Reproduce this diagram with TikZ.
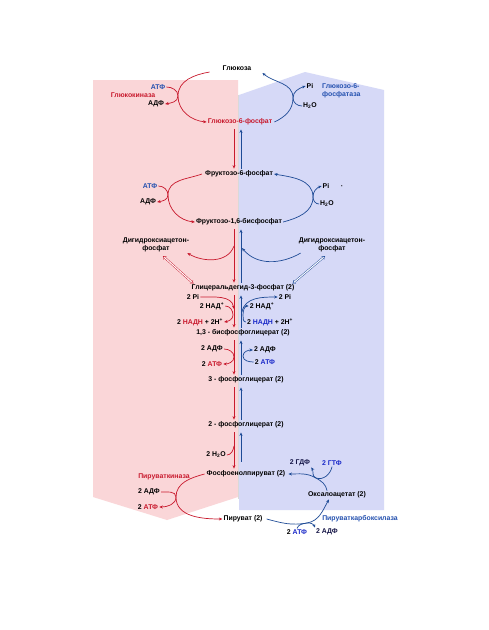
\documentclass[tikz,border=0pt]{standalone}
\usepackage{fontspec}
\setmainfont{Liberation Sans}
\usetikzlibrary{arrows.meta}
\definecolor{pinkbg}{RGB}{250,214,216}
\definecolor{bluebg}{RGB}{214,217,247}
\definecolor{rd}{RGB}{200,25,45}
\definecolor{bl}{RGB}{30,75,150}
\definecolor{bltx}{RGB}{35,80,175}
\definecolor{atfblue}{RGB}{25,40,200}
\definecolor{navy}{RGB}{20,20,70}
\begin{document}
\begin{tikzpicture}[x=1pt,y=1pt,
 lbl/.style={font=\bfseries\fontsize{6.9}{7.6}\selectfont, inner sep=1pt, text=black},
 rarr/.style={draw=rd, line width=0.7pt, -{Stealth[length=3.5pt,width=3pt]}},
 barr/.style={draw=bl, line width=0.7pt, -{Stealth[length=3.5pt,width=3pt]}},
 rvert/.style={rarr, shorten <=3pt, shorten >=1pt},
 bvert/.style={barr, shorten <=1pt, shorten >=3pt},
 rline/.style={draw=rd, line width=0.7pt},
 rdbl/.style={draw=rd, line width=0.45pt, double=white, double distance=1pt, {Implies}-{Implies}},
 bdbl/.style={draw=bl, line width=0.45pt, double=white, double distance=1pt, {Implies}-{Implies}}]
\useasboundingbox (0,0) rectangle (488,-630);
\fill[white] (0,0) rectangle (488,-630);
% backgrounds
\fill[pinkbg] (93,-80) -- (238,-80) -- (238,-497) -- (167,-520) -- (93,-497) -- cycle;
\fill[bluebg] (239,-95) -- (305,-72) -- (384,-90) -- (384,-510) -- (239,-510) -- cycle;
\draw[gray!30, line width=0.5pt] (238.5,-95) -- (238.5,-499);
% column x positions
\coordinate (rx) at (234,0);
\coordinate (bx) at (241,0);
% nodes
\node[lbl] (glc) at (237,-68) {Глюкоза};
\node[lbl, text=bltx] (atf1) at (158,-87) {АТФ};
\node[lbl, text=rd] (gk) at (133,-95) {Глюкокиназа};
\node[lbl] (adf1) at (156,-104) {АДФ};
\node[lbl, text=rd] (g6p) at (240,-122) {Глюкозо-6-фосфат};
\node[lbl] (pi1) at (310,-86) {Pi};
\node[lbl] (h2o1) at (310,-106) {H\textsubscript{2}O};
\node[lbl, text=bltx, anchor=west, align=left] (g6pase) at (321,-91) {Глюкозо-6-\\фосфатаза};
\node[lbl] (f6p) at (239,-174) {Фруктозо-6-фосфат};
\node[lbl, text=bltx] (atf2) at (150,-186) {АТФ};
\node[lbl] (adf2) at (148,-202) {АДФ};
\node[lbl] (pi2) at (326,-186) {Pi};
\node[lbl] (dot) at (342,-187) {·};
\node[lbl] (h2o2) at (327,-204) {H\textsubscript{2}O};
\node[lbl] (f16) at (239,-222) {Фруктозо-1,6-бисфосфат};
\node[lbl, align=center] (dhapL) at (156,-245) {Дигидроксиацетон-\\фосфат};
\node[lbl, align=center] (dhapR) at (332,-245) {Дигидроксиацетон-\\фосфат};
\node[lbl] (gap) at (243,-288) {Глицеральдегид-3-фосфат (2)};
\node[lbl] (p2L) at (193,-297) {2 Pi};
\node[lbl] (nadL) at (212,-306) {2 НАД\textsuperscript{+}};
\node[lbl] (nadhL) at (200,-322) {2 {\color{rd}НАДН} + 2H\textsuperscript{+}};
\node[lbl] (p2R) at (285,-297) {2 Pi};
\node[lbl] (nadR) at (262,-306) {2 НАД\textsuperscript{+}};
\node[lbl] (nadhR) at (270,-322) {2 {\color{atfblue}НАДН} + 2H\textsuperscript{+}};
\node[lbl] (bpg) at (243,-333) {1,3 - бисфосфоглицерат (2)};
\node[lbl] (adf3L) at (212,-349) {2 АДФ};
\node[lbl] (atf3L) at (212,-364) {2 {\color{rd}АТФ}};
\node[lbl] (adf3R) at (265,-350) {2 АДФ};
\node[lbl] (atf3R) at (265,-362) {2 {\color{atfblue}АТФ}};
\node[lbl] (pg3) at (246,-380) {3 - фосфоглицерат (2)};
\node[lbl] (pg2) at (246,-425) {2 - фосфоглицерат (2)};
\node[lbl] (h2o3) at (216,-455) {2 H\textsubscript{2}O};
\node[lbl] (pep) at (246,-474) {Фосфоенолпируват (2)};
\node[lbl, text=rd] (pk) at (164,-477) {Пируваткиназа};
\node[lbl] (adf5) at (149,-492) {2 АДФ};
\node[lbl] (atf5) at (148,-507) {2 {\color{rd}АТФ}};
\node[lbl] (pyr) at (243,-519) {Пируват (2)};
\node[lbl, text=navy] (gdf) at (300,-463) {2 ГДФ};
\node[lbl, text=atfblue] (gtf) at (332,-463) {2 ГТФ};
\node[lbl] (oxa) at (337,-495) {Оксалоацетат (2)};
\node[lbl, text=bltx] (pc) at (360,-519) {Пируваткарбоксилаза};
\node[lbl] (atf6) at (297,-532) {2 {\color{atfblue}АТФ}};
\node[lbl, text=navy] (adf6) at (327,-532) {2 АДФ};
% vertical arrows
\draw[rvert] (g6p.south -| rx) -- (f6p.north -| rx);
\draw[bvert] (f6p.north -| bx) -- (g6p.south -| bx);
\draw[rvert] (f16.south -| rx) -- (gap.north -| rx);
\draw[bvert] (gap.north -| bx) -- (f16.south -| bx);
\draw[rvert] (gap.south -| rx) -- (bpg.north -| rx);
\draw[bvert] (bpg.north -| bx) -- (gap.south -| bx);
\draw[rvert] (bpg.south -| rx) -- (pg3.north -| rx);
\draw[bvert] (pg3.north -| bx) -- (bpg.south -| bx);
\draw[rvert] (pg3.south -| rx) -- (pg2.north -| rx);
\draw[bvert] (pg2.north -| bx) -- (pg3.south -| bx);
\draw[rvert] (pg2.south -| rx) -- (pep.north -| rx);
\draw[bvert, shorten <=8pt] (pep.north -| bx) -- (pg2.south -| bx);
% glucose <-> G6P
\coordinate (j1) at (178,-96);
\draw[rarr] ([shift={(-12pt,-4pt)}]glc.west) to[out=190,in=90] (j1) to[out=-90,in=175] (g6p.west);
\draw[rarr] (atf1.east) to[out=0,in=90] (j1) to[out=-90,in=10] (adf1.east);
\coordinate (j2) at (293,-98);
\draw[barr] ([xshift=1pt]g6p.east) to[out=25,in=-90] (j2) to[out=90,in=-40] ([shift={(10pt,-5pt)}]glc.east);
\draw[barr] (h2o1.west) to[out=180,in=-90] (j2) to[out=90,in=200] (pi1.west);
% F6P <-> F16BP
\coordinate (j3) at (168,-195);
\draw[rarr] ([xshift=-2pt]f6p.west) to[out=200,in=90] (j3) to[out=-90,in=175] (f16.west);
\draw[rarr] (atf2.east) to[out=0,in=90] (j3) to[out=-90,in=10] (adf2.east);
\coordinate (j4) at (313,-197);
\draw[barr] (f16.east) to[out=15,in=-90] (j4) to[out=90,in=-10] (f6p.east);
\draw[barr] (h2o2.west) to[out=180,in=-90] (j4) to[out=90,in=200] (pi2.west);
% DHAP
\coordinate (j5) at (234,-246);
\draw[rarr] (j5) to[out=-110,in=-30] ([xshift=-3pt]dhapL.south east);
\coordinate (j6) at (242,-248);
\draw[barr] ([xshift=3pt]dhapR.south west) to[out=-150,in=-50] (j6);
\draw[rdbl] ([shift={(7pt,-3pt)}]dhapL.south) -- ([xshift=3pt]gap.north west);
\draw[bdbl] ([xshift=-3pt]gap.north east) -- ([shift={(-7pt,-3pt)}]dhapR.south);
% GAP -> 1,3-BPG
\coordinate (j7) at (234,-309);
\draw[rarr] (p2L.east) to[out=0,in=100] (j7);
\coordinate (j8) at (233,-315);
\draw[rarr] (nadL.east) to[out=0,in=90] (j8) to[out=-90,in=10] (nadhL.east);
\coordinate (j9) at (242,-312);
\draw[barr] (j9) to[out=80,in=180] (p2R.west);
\coordinate (j10) at (243,-315);
\draw[barr] (nadhR.west) to[out=180,in=-90] (j10) to[out=90,in=180] (nadR.west);
% 1,3-BPG -> 3PG
\coordinate (j11) at (234,-357);
\draw[rarr] (adf3L.east) to[out=0,in=90] (j11) to[out=-90,in=0] (atf3L.east);
\coordinate (j12) at (243,-356);
\draw[barr] (atf3R.west) to[out=180,in=-90] (j12) to[out=90,in=180] (adf3R.west);
% H2O
\coordinate (j13) at (234,-446);
\draw[rline] (h2o3.east) to[out=0,in=-100] (j13);
% PEP -> Pyruvate
\coordinate (j14) at (176,-497);
\draw[rarr] ([xshift=-1pt]pep.west) to[out=195,in=90] (j14) to[out=-90,in=180] (pyr.west);
\draw[rarr] (adf5.east) to[out=0,in=90] (j14) to[out=-90,in=0] (atf5.east);
% Pyruvate -> OAA
\coordinate (j15) at (307,-523);
\draw[barr] ([xshift=3pt]pyr.east) to[out=-15,in=190] (j15) to[out=10,in=-120] ([xshift=-8pt]oxa.south);
\draw[barr] (atf6.north) to[out=70,in=190] (j15) to[out=10,in=110] (adf6.north west);
% OAA -> PEP
\coordinate (j16) at (316,-478);
\draw[barr] ([xshift=-10pt]oxa.north) to[out=100,in=-30] (j16) to[out=150,in=0] ([xshift=2pt]pep.east);
\draw[barr] (gtf.south) to[out=-100,in=-20] (j16) to[out=160,in=-60] (gdf.south east);
\end{tikzpicture}
\end{document}
